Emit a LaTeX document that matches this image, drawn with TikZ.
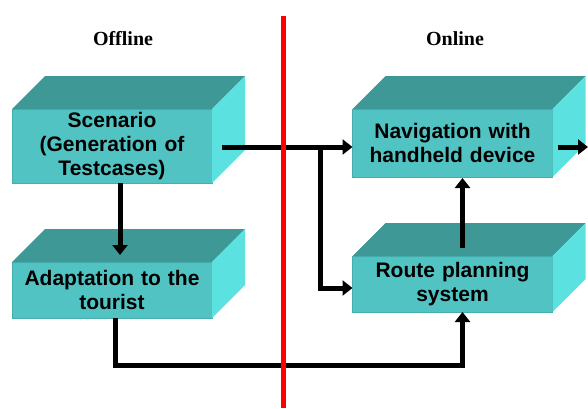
\documentclass[tikz,border=0pt]{standalone}
\usepackage{fontspec}
\setmainfont{Liberation Serif}
\setsansfont{Liberation Sans}
\usetikzlibrary{arrows.meta}

\definecolor{frontcol}{HTML}{52C3C3}
\definecolor{topcol}{HTML}{3E9896}
\definecolor{sidecol}{HTML}{5CE1E1}
\definecolor{edgecol}{HTML}{47AEAE}

\tikzset{
  block/.style={fill=frontcol, draw=edgecol, line width=0.8pt,
    minimum width=200pt, inner sep=0pt, outer sep=0pt,
    text width=198pt, align=center,
    font=\sffamily\bfseries\fontsize{21}{24}\selectfont},
  heading/.style={font=\rmfamily\bfseries\fontsize{20}{22}\selectfont},
  flow/.style={line width=5pt, -{Triangle[length=10pt,width=15pt]}},
}

% top and right faces of a block, 33pt deep
\newcommand{\blockfaces}[1]{%
  \fill[topcol] (#1.north west) -- ++(33pt,33pt)
    -- ([shift={(33pt,33pt)}]#1.north east) -- (#1.north east) -- cycle;
  \fill[sidecol] (#1.north east) -- ++(33pt,33pt)
    -- ([shift={(33pt,33pt)}]#1.south east) -- (#1.south east) -- cycle;
}

\begin{document}
\begin{tikzpicture}[x=1pt,y=1pt]
  \useasboundingbox (0,0) rectangle (588,408);

  \node[heading] (offline) at (123,369) {Offline};
  \node[heading] (online) at (455,369) {Online};

  % the four blocks
  \node[block, minimum height=74pt] (scen) at (112,262) {Scenario\\(Generation of\\Testcases)};
  \node[block, minimum height=56pt] (adapt) at (112,118) {Adaptation to the\\tourist};
  \node[block, minimum height=68pt] (nav) at (452.5,265) {Navigation with\\handheld device};
  \node[block, minimum height=56pt] (route) at (452.5,124) {Route planning\\system};
  \blockfaces{scen}
  \blockfaces{adapt}
  \blockfaces{nav}
  \blockfaces{route}

  \coordinate (out) at (588,261);

  % connections
  \draw[flow] ([xshift=10pt,yshift=-1pt]scen.east) -- ([yshift=-4pt]nav.west);
  \draw[flow] ([xshift=108pt,yshift=-1pt]scen.east) |- ([yshift=-4pt]route.west);
  \draw[flow] ([xshift=8pt]scen.south) -- ([xshift=8pt,yshift=7pt]adapt.north);
  \draw[flow] ([xshift=3pt]adapt.south) -- ++(0,-47) -| ([xshift=10pt]route.south);
  \draw[flow] ([xshift=10pt,yshift=8pt]route.north) -- ([xshift=10pt,yshift=-1pt]nav.south);
  \draw[flow] ([xshift=5pt,yshift=-4pt]nav.east) -- (out);

  % offline / online divide
  \draw[red, line width=5pt] (283,0) -- (283,392);
\end{tikzpicture}
\end{document}
